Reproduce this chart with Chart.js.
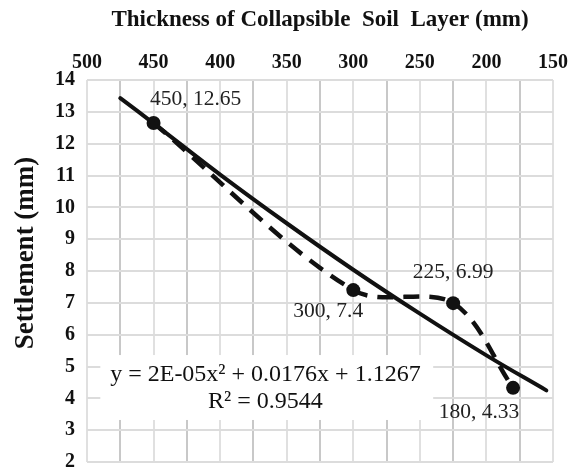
<!DOCTYPE html>
<html>
<head>
<meta charset="utf-8">
<script src="https://cdn.jsdelivr.net/npm/chart.js@4"></script>
<style>
  html,body{margin:0;padding:0;background:#fff;}
  #wrap{width:582px;height:471px;}
</style>
</head>
<body>
<div id="wrap"><canvas id="c" width="582" height="471"></canvas></div>
<script>
// Measured data (thickness mm, settlement mm)
const thickness = [450, 300, 225, 180];
const settlement = [12.65, 7.4, 6.99, 4.33];
const pointLabels = ['450, 12.65', '300, 7.4', '225, 6.99', '180, 4.33'];
// Polynomial trendline
const trendX = [475, 450, 400, 350, 300, 250, 200, 155];
const trendY = [13.43, 12.64, 11.03, 9.50, 8.04, 6.66, 5.35, 4.25];
const equationLines = ['y = 2E-05x\u00B2 + 0.0176x + 1.1267', 'R\u00B2 = 0.9544'];
const xTitle = 'Thickness of Collapsible  Soil  Layer (mm)';
const yTitle = 'Settlement (mm)';

const SERIF = '"Liberation Serif", "Times New Roman", serif';

const labelOffsets = [[42, -24], [-25, 21], [0, -31], [-34, 25]];

const overlay = {
  id: 'overlay',
  beforeDatasetsDraw(chart) {
    const {ctx, scales: {x, y}} = chart;
    // equation box (white, hides gridlines)
    const x0 = x.getPixelForValue(490), x1 = x.getPixelForValue(240);
    const y0 = y.getPixelForValue(5.36), y1 = y.getPixelForValue(3.32);
    ctx.save();
    ctx.fillStyle = '#ffffff';
    ctx.fillRect(x0, y0, x1 - x0, y1 - y0);
    ctx.fillStyle = '#111';
    ctx.font = '24px ' + SERIF;
    ctx.textAlign = 'center';
    ctx.textBaseline = 'middle';
    const cx = x.getPixelForValue(366);
    ctx.fillText(equationLines[0], cx, y.getPixelForValue(4.73));
    ctx.fillText(equationLines[1], cx, y.getPixelForValue(3.88));
    ctx.restore();
  },
  afterDatasetsDraw(chart) {
    const {ctx, chartArea, scales: {x, y}} = chart;
    ctx.save();
    ctx.fillStyle = '#222';
    ctx.font = '21.5px ' + SERIF;
    ctx.textAlign = 'center';
    ctx.textBaseline = 'middle';
    thickness.forEach((t, i) => {
      const px = x.getPixelForValue(t) + labelOffsets[i][0];
      const py = y.getPixelForValue(settlement[i]) + labelOffsets[i][1];
      ctx.fillText(pointLabels[i], px, py);
    });
    // y axis title
    ctx.fillStyle = '#111';
    ctx.font = 'bold 27px ' + SERIF;
    ctx.translate(26, (chartArea.top + chartArea.bottom) / 2 - 18);
    ctx.rotate(-Math.PI / 2);
    ctx.fillText(yTitle, 0, 0);
    ctx.restore();
  }
};

new Chart(document.getElementById('c'), {
  type: 'scatter',
  data: {
    datasets: [
      {
        label: 'Trend',
        data: trendX.map((v, i) => ({x: v, y: trendY[i]})),
        showLine: true,
        borderColor: '#111',
        borderWidth: 4,
        pointRadius: 0,
        tension: 0.4,
        borderCapStyle: 'round',
        order: 1
      },
      {
        label: 'Settlement',
        data: thickness.map((v, i) => ({x: v, y: settlement[i]})),
        showLine: true,
        borderColor: '#111',
        backgroundColor: '#111',
        borderWidth: 4.5,
        borderDash: [16, 10],
        tension: 0.33,
        pointRadius: 7,
        pointBackgroundColor: '#111',
        pointBorderWidth: 0,
        order: 2
      }
    ]
  },
  options: {
    responsive: false,
    animation: false,
    devicePixelRatio: 1,
    layout: {padding: {top: 0, left: 0, right: 29, bottom: 9}},
    plugins: {legend: {display: false}, tooltip: {enabled: false}},
    scales: {
      x: {
        type: 'linear',
        position: 'top',
        reverse: true,
        min: 150,
        max: 500,
        afterFit(s) { s.height = 80; s.paddingLeft = 0; s.paddingRight = 0; },
        ticks: {
          stepSize: 25,
          autoSkip: false,
          maxRotation: 0,
          padding: 5,
          color: '#111',
          font: {family: SERIF, size: 20, weight: 'bold'},
          callback: v => (v % 50 === 0 ? String(v) : '')
        },
        grid: {
          drawTicks: false,
          lineWidth: 2,
          color: c => (c.tick && c.tick.value % 50 === 0 ? '#e0e0e0' : '#c8c8c8')
        },
        border: {display: false},
        title: {
          display: true,
          text: xTitle,
          color: '#111',
          font: {family: SERIF, size: 23, weight: 'bold'},
          padding: {top: 6, bottom: 0}
        }
      },
      y: {
        type: 'linear',
        min: 2,
        max: 14,
        afterFit(s) { s.width = 87; s.paddingTop = 0; s.paddingBottom = 0; },
        ticks: {
          stepSize: 1,
          padding: 12,
          color: '#111',
          font: {family: SERIF, size: 20, weight: 'bold'}
        },
        grid: {drawTicks: false, lineWidth: 2, color: '#dcdcdc'},
        border: {display: false},
        title: {display: false}
      }
    }
  },
  plugins: [overlay]
});
</script>
</body>
</html>
